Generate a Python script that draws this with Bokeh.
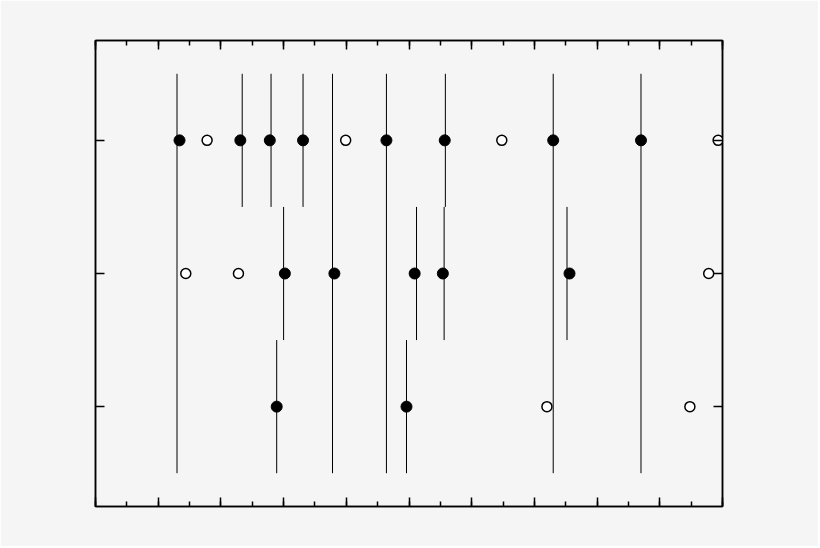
from bokeh.plotting import figure
from bokeh.models import LinearAxis, SingleIntervalTicker, FixedTicker, CustomJSTickFormatter, Range1d
from bokeh.embed import file_html
from bokeh.resources import INLINE

# Row positions (top row = 3)
rows = [3, 2, 1]

# Vertical lines spanning all rows
lines_all_x = [1.30, 3.78, 4.64, 7.30, 8.70]
# Vertical lines spanning a single row
lines_row3_x = [2.34, 2.80, 3.31, 5.58]
lines_row2_x = [3.00, 5.12, 5.56, 7.52]
lines_row1_x = [2.89, 4.96]

# Filled points
filled_row3_x = [1.34, 2.31, 2.78, 3.31, 4.64, 5.57, 7.30, 8.70]
filled_row2_x = [3.02, 3.81, 5.09, 5.54, 7.56]
filled_row1_x = [2.89, 4.96]
# Open points
open_row3_x = [1.78, 3.99, 6.48, 9.93]
open_row2_x = [1.44, 2.28, 9.78]
open_row1_x = [7.20, 9.48]

BG = "#f5f5f5"

p = figure(frame_width=627, frame_height=466,
           min_border_left=95, min_border_top=40, min_border_right=96, min_border_bottom=40,
           x_range=Range1d(0, 10), y_range=Range1d(0.25, 3.75),
           output_backend="svg", toolbar_location=None,
           background_fill_color=BG, border_fill_color=BG)
p.xgrid.visible = False
p.ygrid.visible = False
p.outline_line_color = "black"
p.outline_line_width = 1.5

p.add_layout(LinearAxis(), "above")
p.add_layout(LinearAxis(), "right")

blank = CustomJSTickFormatter(code="return ''")
for ax in p.xaxis:
    ax.ticker = SingleIntervalTicker(interval=1, num_minor_ticks=2)
for ax in p.yaxis:
    ax.ticker = FixedTicker(ticks=rows, minor_ticks=[])
for ax in list(p.xaxis) + list(p.yaxis):
    ax.formatter = blank
    ax.major_label_text_font_size = "0px"
    ax.major_label_standoff = 0
    ax.major_tick_in = 9
    ax.major_tick_out = 0
    ax.minor_tick_in = 5
    ax.minor_tick_out = 0
    ax.axis_line_color = "black"
    ax.axis_line_width = 1.5
    ax.major_tick_line_color = "black"
    ax.major_tick_line_width = 1.5
    ax.minor_tick_line_color = "black"
    ax.minor_tick_line_width = 1.5

# Lines
sx, sy0, sy1 = [], [], []
for x in lines_all_x:
    sx.append(x); sy0.append(min(rows) - 0.5); sy1.append(max(rows) + 0.5)
for r, xs in zip(rows, [lines_row3_x, lines_row2_x, lines_row1_x]):
    for x in xs:
        sx.append(x); sy0.append(r - 0.5); sy1.append(r + 0.5)
p.segment(x0=sx, y0=sy0, x1=sx, y1=sy1, line_color="black", line_width=1)

# Points
fx, fy, ox, oy = [], [], [], []
for r, xs in zip(rows, [filled_row3_x, filled_row2_x, filled_row1_x]):
    fx += xs; fy += [r] * len(xs)
for r, xs in zip(rows, [open_row3_x, open_row2_x, open_row1_x]):
    ox += xs; oy += [r] * len(xs)
p.scatter(fx, fy, size=11, fill_color="black", line_color="black", line_width=1)
p.scatter(ox, oy, size=10, fill_color="white", line_color="black", line_width=1.5)

html = file_html(p, INLINE)
html = html.replace("<body>", '<body style="background:#f5f5f5;">', 1)
open("out.html", "w").write(html)
